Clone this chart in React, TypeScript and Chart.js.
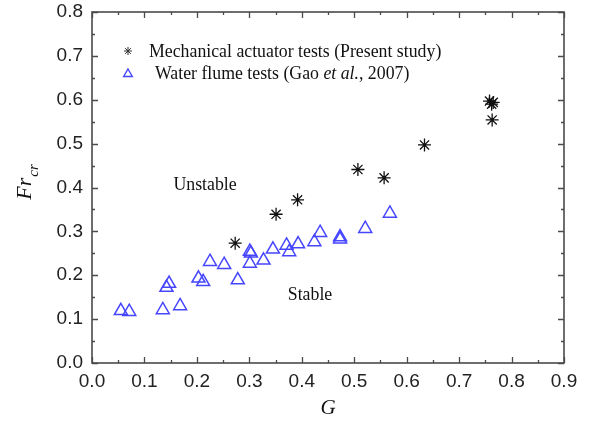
import { useEffect, useRef } from "react";
import { Chart, registerables } from "chart.js";

Chart.register(...registerables);

// Mechanical actuator tests (present study)
const actuatorG = [0.273, 0.351, 0.392, 0.507, 0.557, 0.634, 0.758, 0.762, 0.765, 0.763];
const actuatorFr = [0.273, 0.339, 0.372, 0.441, 0.422, 0.497, 0.597, 0.590, 0.594, 0.554];

// Water flume tests (Gao et al., 2007)
const flumeG = [
  0.055, 0.071, 0.135, 0.168, 0.142, 0.147, 0.203, 0.212, 0.225, 0.252, 0.278, 0.301, 0.303,
  0.301, 0.327, 0.345, 0.371, 0.376, 0.393, 0.424, 0.435, 0.473, 0.473, 0.521, 0.568,
];
const flumeFr = [
  0.119, 0.117, 0.121, 0.130, 0.172, 0.181, 0.193, 0.185, 0.231, 0.224, 0.189, 0.254, 0.250,
  0.227, 0.234, 0.259, 0.268, 0.253, 0.271, 0.276, 0.297, 0.287, 0.282, 0.306, 0.341,
];

const xTicks = [0, 0.1, 0.2, 0.3, 0.4, 0.5, 0.6, 0.7, 0.8, 0.9];
const yTicks = [0, 0.1, 0.2, 0.3, 0.4, 0.5, 0.6, 0.7, 0.8];

const seriesNames = ["Mechanical actuator tests (Present study)", "Water flume tests (Gao ", "et al.", ", 2007)"];
const regionLabels = ["Unstable", "Stable"];

const SERIF = "'Liberation Serif', 'DejaVu Serif', serif";
const SANS = "'Liberation Sans', Arial, sans-serif";
const BLUE = "rgb(70, 70, 255)";
const FRAME = "#4a4a4a";

function drawStar(ctx: CanvasRenderingContext2D, x: number, y: number, r: number) {
  const d = r * Math.SQRT1_2;
  ctx.beginPath();
  ctx.moveTo(x - r, y); ctx.lineTo(x + r, y);
  ctx.moveTo(x, y - r); ctx.lineTo(x, y + r);
  ctx.moveTo(x - d, y - d); ctx.lineTo(x + d, y + d);
  ctx.moveTo(x - d, y + d); ctx.lineTo(x + d, y - d);
  ctx.stroke();
}

function drawTriangle(ctx: CanvasRenderingContext2D, x: number, y: number, r: number) {
  ctx.beginPath();
  for (let i = 0; i < 3; i++) {
    const a = (i * 2 * Math.PI) / 3;
    const px = x + Math.sin(a) * r;
    const py = y - Math.cos(a) * r;
    if (i === 0) ctx.moveTo(px, py); else ctx.lineTo(px, py);
  }
  ctx.closePath();
  ctx.stroke();
}

const decorations = {
  id: "frameAndNotes",
  afterDraw(chart: any) {
    const { ctx, chartArea: a, scales } = chart;
    const xs = scales.x;
    const ys = scales.y;
    ctx.save();

    // frame
    ctx.strokeStyle = FRAME;
    ctx.lineWidth = 1.6;
    ctx.strokeRect(a.left, a.top, a.right - a.left, a.bottom - a.top);

    // inward major / minor ticks on all four sides
    ctx.lineWidth = 1.3;
    ctx.beginPath();
    for (let i = 0; i <= 18; i++) {
      const v = i * 0.05;
      const px = Math.round(xs.getPixelForValue(v)) + 0.5;
      const len = i % 2 === 0 ? 6 : 3;
      ctx.moveTo(px, a.bottom); ctx.lineTo(px, a.bottom - len);
      ctx.moveTo(px, a.top); ctx.lineTo(px, a.top + len);
    }
    for (let i = 0; i <= 16; i++) {
      const v = i * 0.05;
      const py = Math.round(ys.getPixelForValue(v)) + 0.5;
      const len = i % 2 === 0 ? 6 : 3;
      ctx.moveTo(a.left, py); ctx.lineTo(a.left + len, py);
      ctx.moveTo(a.right, py); ctx.lineTo(a.right - len, py);
    }
    ctx.stroke();

    // legend
    ctx.textBaseline = "middle";
    ctx.textAlign = "left";
    ctx.strokeStyle = "#333";
    ctx.lineWidth = 1;
    drawStar(ctx, 128, 51, 4);
    ctx.fillStyle = "#111";
    ctx.font = `17.8px ${SERIF}`;
    ctx.fillText(seriesNames[0], 149, 52);

    ctx.strokeStyle = BLUE;
    ctx.lineWidth = 1.4;
    drawTriangle(ctx, 128, 74, 5);
    let tx = 155;
    ctx.fillStyle = "#111";
    ctx.font = `17.8px ${SERIF}`;
    ctx.fillText(seriesNames[1], tx, 74);
    tx += ctx.measureText(seriesNames[1]).width;
    ctx.font = `italic 17.8px ${SERIF}`;
    ctx.fillText(seriesNames[2], tx, 74);
    tx += ctx.measureText(seriesNames[2]).width;
    ctx.font = `17.8px ${SERIF}`;
    ctx.fillText(seriesNames[3], tx, 74);

    // region labels
    ctx.textAlign = "center";
    ctx.fillText(regionLabels[0], 205, 185);
    ctx.fillText(regionLabels[1], 310, 295);

    // x-axis title
    ctx.font = `italic 21px ${SERIF}`;
    ctx.fillText("G", (a.left + a.right) / 2, 408);

    // y-axis title: Fr with subscript cr
    ctx.translate(25, 182);
    ctx.rotate(-Math.PI / 2);
    ctx.textAlign = "left";
    ctx.textBaseline = "alphabetic";
    ctx.font = `italic 22px ${SERIF}`;
    const wFr = ctx.measureText("Fr").width;
    ctx.font = `italic 15px ${SERIF}`;
    const wCr = ctx.measureText("cr").width;
    const start = -(wFr + wCr + 1) / 2;
    ctx.font = `italic 22px ${SERIF}`;
    ctx.fillText("Fr", start, 6);
    ctx.font = `italic 15px ${SERIF}`;
    ctx.fillText("cr", start + wFr + 1, 13);

    ctx.restore();
  },
};

export default function App() {
  const canvasRef = useRef<HTMLCanvasElement | null>(null);

  useEffect(() => {
    if (!canvasRef.current) return;
    const chart = new Chart(canvasRef.current, {
      type: "scatter",
      data: {
        datasets: [
          {
            label: "Mechanical actuator tests (Present study)",
            data: actuatorG.map((g, i) => ({ x: g, y: actuatorFr[i] })),
            pointStyle: "star",
            pointRadius: 6.5,
            borderColor: "#111",
            backgroundColor: "#111",
            pointBorderWidth: 1.3,
          },
          {
            label: "Water flume tests (Gao et al., 2007)",
            data: flumeG.map((g, i) => ({ x: g, y: flumeFr[i] })),
            pointStyle: "triangle",
            pointRadius: 7.5,
            borderColor: BLUE,
            backgroundColor: "rgba(0,0,0,0)",
            pointBorderWidth: 1.5,
          },
        ],
      },
      options: {
        responsive: false,
        animation: false,
        devicePixelRatio: 1,
        layout: { padding: { top: 12, right: 26, left: 0, bottom: 0 } },
        plugins: { legend: { display: false }, tooltip: { enabled: false } },
        scales: {
          x: {
            type: "linear",
            min: 0,
            max: 0.9,
            afterBuildTicks: (s: any) => { s.ticks = xTicks.map((v) => ({ value: v })); },
            afterFit: (s: any) => { s.height = 60; s.paddingLeft = 0; s.paddingRight = 0; },
            grid: { display: false, drawTicks: false },
            border: { display: false },
            ticks: {
              padding: 7,
              color: "#222",
              font: { family: SANS, size: 19 },
              callback: (v: any) => Number(v).toFixed(1),
              maxRotation: 0,
              autoSkip: false,
            },
          },
          y: {
            type: "linear",
            min: 0,
            max: 0.8,
            afterBuildTicks: (s: any) => { s.ticks = yTicks.map((v) => ({ value: v })); },
            afterFit: (s: any) => { s.width = 92; s.paddingTop = 0; s.paddingBottom = 0; },
            grid: { display: false, drawTicks: false },
            border: { display: false },
            ticks: {
              padding: 9,
              color: "#222",
              font: { family: SANS, size: 19 },
              callback: (v: any) => Number(v).toFixed(1),
              autoSkip: false,
            },
          },
        },
      },
      plugins: [decorations],
    });
    return () => chart.destroy();
  }, []);

  return (
    <div style={{ position: "fixed", left: 0, top: 0, width: 590, height: 423, background: "#fff" }}>
      <canvas ref={canvasRef} width={590} height={423} style={{ width: 590, height: 423 }} />
    </div>
  );
}
